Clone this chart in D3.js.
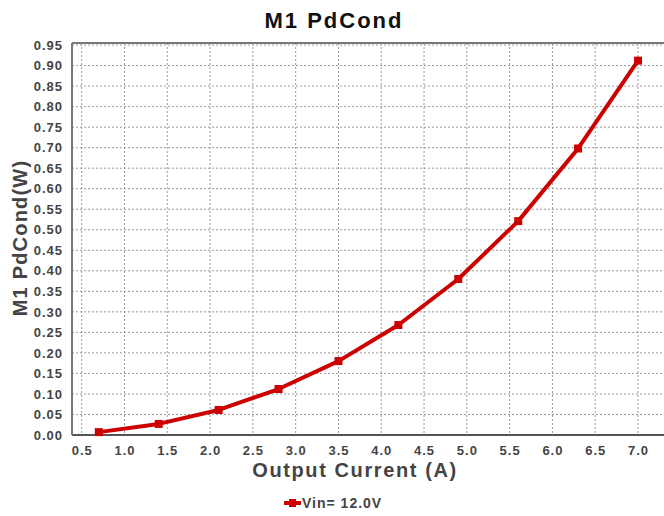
<!DOCTYPE html>
<html><head><meta charset="utf-8">
<script src="https://cdn.jsdelivr.net/npm/d3@7"></script>
<style>body{margin:0;background:#fff;}svg{display:block;font-family:"Liberation Sans",Arial,sans-serif;}</style>
</head><body>
<svg id="c" width="664" height="516"></svg>
<script>
const xValues = [0.7, 1.4, 2.1, 2.8, 3.5, 4.2, 4.9, 5.6, 6.3, 7.0];
const yValues = [0.007, 0.027, 0.061, 0.112, 0.180, 0.268, 0.380, 0.521, 0.698, 0.912];
const xTicks = [0.5,1.0,1.5,2.0,2.5,3.0,3.5,4.0,4.5,5.0,5.5,6.0,6.5,7.0];
const yTicks = d3.range(0, 20).map(i => i * 0.05);
const seriesName = "Vin= 12.0V";
const title = "M1 PdCond";
const xTitle = "Output Current (A)";
const yTitle = "M1 PdCond(W)";

const svg = d3.select("#c");
const L = 72, R = 664, T = 43, B = 435;
const x = d3.scaleLinear().domain([0.5 - 9.7/85.6, 7.0 + 26/85.6]).range([L, R]);
const y = d3.scaleLinear().domain([0, 0.955]).range([B, T]);

// grid
const g = svg.append("g");
g.selectAll(".vg").data(xTicks).enter().append("line")
  .attr("x1", d => x(d)).attr("x2", d => x(d)).attr("y1", T).attr("y2", B)
  .attr("stroke", "#999").attr("stroke-width", 1).attr("stroke-dasharray", "2,2");
g.selectAll(".hg").data(yTicks.slice(1)).enter().append("line")
  .attr("x1", L).attr("x2", R).attr("y1", d => y(d)).attr("y2", d => y(d))
  .attr("stroke", "#999").attr("stroke-width", 1).attr("stroke-dasharray", "2,2");

// axes
const xAxis = d3.axisBottom(x).tickValues(xTicks).tickFormat(d3.format(".1f")).tickSize(0).tickPadding(9);
const yAxis = d3.axisLeft(y).tickValues(yTicks).tickFormat(d3.format(".2f")).tickSize(0).tickPadding(9);
const gx = svg.append("g").attr("transform", `translate(0,${B})`).call(xAxis);
const gy = svg.append("g").attr("transform", `translate(${L},0)`).call(yAxis);
[gx, gy].forEach(a => {
  a.select(".domain").remove();
  a.selectAll("text").attr("font-size", 13).attr("font-weight", "bold").attr("fill", "#444")
    .attr("letter-spacing", 1)
    .attr("font-family", "Liberation Sans, Arial, sans-serif");
});
gx.selectAll("text").attr("dy", "0.85em");

// frame
svg.append("line").attr("x1", L).attr("x2", R).attr("y1", B).attr("y2", B).attr("stroke", "#555").attr("stroke-width", 2);
svg.append("line").attr("x1", L).attr("x2", L).attr("y1", T).attr("y2", B).attr("stroke", "#777").attr("stroke-width", 2);
svg.append("line").attr("x1", L).attr("x2", R).attr("y1", T).attr("y2", T).attr("stroke", "#777").attr("stroke-width", 2);

// series
const data = xValues.map((v, i) => [v, yValues[i]]);
const color = "#cc0000";
svg.append("path").datum(data)
  .attr("d", d3.line().x(d => x(d[0])).y(d => y(d[1])))
  .attr("fill", "none").attr("stroke", color).attr("stroke-width", 4).attr("stroke-linejoin", "round");
svg.selectAll(".m").data(data).enter().append("rect")
  .attr("x", d => x(d[0]) - 4).attr("y", d => y(d[1]) - 4).attr("width", 8).attr("height", 8).attr("fill", color);

// titles
svg.append("text").attr("x", 334).attr("y", 28).attr("text-anchor", "middle")
  .attr("font-size", 22).attr("font-weight", "bold").attr("fill", "#111").attr("letter-spacing", 2).text(title);
svg.append("text").attr("x", 355).attr("y", 477).attr("text-anchor", "middle")
  .attr("font-size", 20).attr("font-weight", "bold").attr("fill", "#444").attr("letter-spacing", 1.6).text(xTitle);
svg.append("text").attr("transform", `translate(27,238) rotate(-90)`).attr("text-anchor", "middle")
  .attr("font-size", 20).attr("font-weight", "bold").attr("fill", "#444").attr("letter-spacing", 1.2).text(yTitle);

// legend
const lg = svg.append("g").attr("transform", "translate(284,503)");
lg.append("line").attr("x1", 0).attr("x2", 17).attr("y1", 0).attr("y2", 0).attr("stroke", color).attr("stroke-width", 4);
lg.append("rect").attr("x", 5).attr("y", -4).attr("width", 7).attr("height", 8).attr("fill", color);
lg.append("text").attr("x", 18).attr("y", 5).attr("font-size", 14).attr("font-weight", "bold").attr("fill", "#444").attr("letter-spacing", 1).text(seriesName);
</script>
</body></html>
